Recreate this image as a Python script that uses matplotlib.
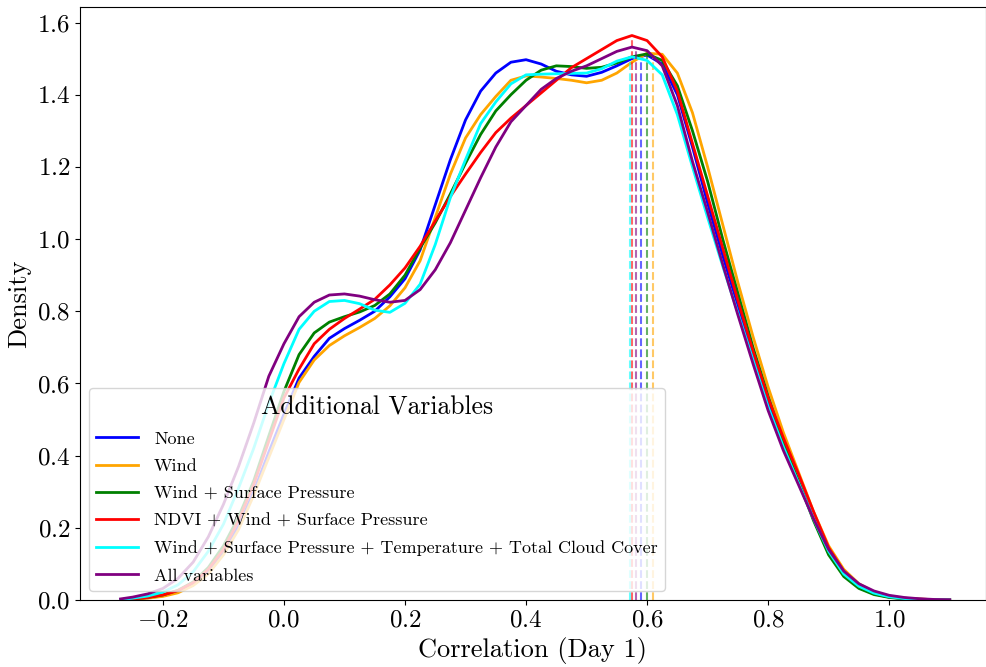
import numpy as np
import matplotlib
matplotlib.use("Agg")
import matplotlib.pyplot as plt

plt.rcParams['font.family'] = 'serif'
plt.rcParams['font.serif'] = ['cmr10']
plt.rcParams['mathtext.fontset'] = 'cm'
plt.rcParams['axes.formatter.use_mathtext'] = True

# correlation grid (x) and density values
x = [-0.27, -0.25, -0.225, -0.2, -0.175, -0.15, -0.125, -0.1, -0.075, -0.05, -0.025, 0.0,
     0.025, 0.05, 0.075, 0.1, 0.125, 0.15, 0.175, 0.2, 0.225, 0.25, 0.275, 0.3,
     0.325, 0.35, 0.375, 0.4, 0.425, 0.45, 0.475, 0.5, 0.525, 0.55, 0.575, 0.6,
     0.625, 0.65, 0.675, 0.7, 0.725, 0.75, 0.775, 0.8, 0.825, 0.85, 0.875, 0.9,
     0.925, 0.95, 0.975, 1.0, 1.025, 1.05, 1.075, 1.1]

none_d = [0.001, 0.002, 0.006, 0.012, 0.023, 0.042, 0.078, 0.13, 0.205, 0.30, 0.41, 0.515,
          0.615, 0.675, 0.725, 0.752, 0.775, 0.80, 0.84, 0.89, 0.97, 1.095, 1.22, 1.33,
          1.41, 1.46, 1.49, 1.497, 1.485, 1.465, 1.455, 1.451, 1.462, 1.48, 1.50, 1.51,
          1.485, 1.40, 1.255, 1.10, 0.955, 0.815, 0.675, 0.545, 0.43, 0.33, 0.225, 0.13,
          0.07, 0.035, 0.017, 0.008, 0.004, 0.002, 0.0008, 0.0003]
wind_d = [0.0005, 0.002, 0.005, 0.01, 0.02, 0.04, 0.072, 0.125, 0.195, 0.29, 0.395, 0.50,
          0.603, 0.665, 0.705, 0.732, 0.755, 0.78, 0.815, 0.865, 0.94, 1.06, 1.18, 1.28,
          1.345, 1.395, 1.44, 1.452, 1.449, 1.445, 1.44, 1.433, 1.44, 1.46, 1.49, 1.515,
          1.512, 1.46, 1.35, 1.20, 1.04, 0.88, 0.73, 0.59, 0.465, 0.355, 0.245, 0.15,
          0.085, 0.045, 0.022, 0.011, 0.005, 0.0025, 0.001, 0.0004]
wind_sp_d = [0.001, 0.003, 0.007, 0.014, 0.027, 0.05, 0.09, 0.15, 0.23, 0.33, 0.455, 0.578,
             0.68, 0.74, 0.77, 0.785, 0.798, 0.816, 0.848, 0.90, 0.975, 1.045, 1.125, 1.21,
             1.29, 1.355, 1.40, 1.44, 1.468, 1.48, 1.478, 1.473, 1.476, 1.488, 1.505, 1.513,
             1.495, 1.425, 1.30, 1.16, 1.00, 0.85, 0.70, 0.565, 0.44, 0.33, 0.22, 0.125,
             0.065, 0.032, 0.015, 0.007, 0.003, 0.0015, 0.0005, 0.0002]
ndvi_d = [0.001, 0.003, 0.007, 0.014, 0.026, 0.048, 0.085, 0.14, 0.22, 0.32, 0.44, 0.56,
          0.64, 0.71, 0.75, 0.78, 0.806, 0.833, 0.873, 0.92, 0.98, 1.05, 1.118, 1.18,
          1.24, 1.295, 1.335, 1.37, 1.405, 1.44, 1.475, 1.50, 1.525, 1.55, 1.564, 1.55,
          1.505, 1.41, 1.265, 1.12, 0.975, 0.83, 0.69, 0.56, 0.45, 0.35, 0.245, 0.145,
          0.08, 0.042, 0.021, 0.01, 0.005, 0.0025, 0.001, 0.0004]
temp_cc_d = [0.001, 0.005, 0.011, 0.022, 0.042, 0.078, 0.135, 0.21, 0.31, 0.42, 0.545, 0.655,
             0.75, 0.80, 0.827, 0.83, 0.821, 0.803, 0.797, 0.822, 0.875, 0.985, 1.115, 1.22,
             1.32, 1.38, 1.43, 1.455, 1.457, 1.458, 1.459, 1.46, 1.472, 1.493, 1.505, 1.495,
             1.455, 1.345, 1.20, 1.06, 0.925, 0.795, 0.665, 0.535, 0.425, 0.325, 0.225, 0.135,
             0.072, 0.038, 0.019, 0.009, 0.004, 0.002, 0.0008, 0.0003]
all_d = [0.003, 0.008, 0.017, 0.032, 0.06, 0.105, 0.175, 0.265, 0.37, 0.49, 0.62, 0.71,
         0.785, 0.825, 0.845, 0.848, 0.842, 0.832, 0.825, 0.83, 0.86, 0.915, 0.99, 1.08,
         1.17, 1.255, 1.325, 1.37, 1.415, 1.445, 1.465, 1.48, 1.50, 1.52, 1.532, 1.522,
         1.48, 1.37, 1.215, 1.075, 0.93, 0.79, 0.655, 0.525, 0.415, 0.32, 0.225, 0.14,
         0.08, 0.045, 0.025, 0.013, 0.007, 0.0035, 0.0015, 0.0006]

labels = ["None", "Wind", "Wind + Surface Pressure", "NDVI + Wind + Surface Pressure",
          "Wind + Surface Pressure + Temperature + Total Cloud Cover", "All variables"]
colors = ["blue", "orange", "green", "red", "cyan", "purple"]
series = [none_d, wind_d, wind_sp_d, ndvi_d, temp_cc_d, all_d]
modes = [0.590, 0.610, 0.600, 0.575, 0.5726, 0.582]

fig, ax = plt.subplots(figsize=(9.87, 6.67), dpi=100)
fig.subplots_adjust(left=80/987, right=986/987, top=1-7/667, bottom=1-600/667)

for d, lab, c, m in zip(series, labels, colors, modes):
    ax.plot(x, d, color=c, lw=2, label=lab)
    h = np.interp(m, x, d)
    ax.vlines(m, 0, h, colors=c, linestyles='--', lw=1.5, alpha=0.6)

ax.set_xlim(-0.337, 1.16)
ax.set_ylim(0, 1.643)
ax.set_xlabel("Correlation (Day 1)", fontsize=19)
ax.set_ylabel("Density", fontsize=19)
ax.tick_params(labelsize=18)
ax.legend(title="Additional Variables", loc="lower left", fontsize=13, title_fontsize=18.5,
          labelspacing=0.65, handlelength=2.3, handletextpad=0.9)

fig.savefig("out.png", dpi=100)
